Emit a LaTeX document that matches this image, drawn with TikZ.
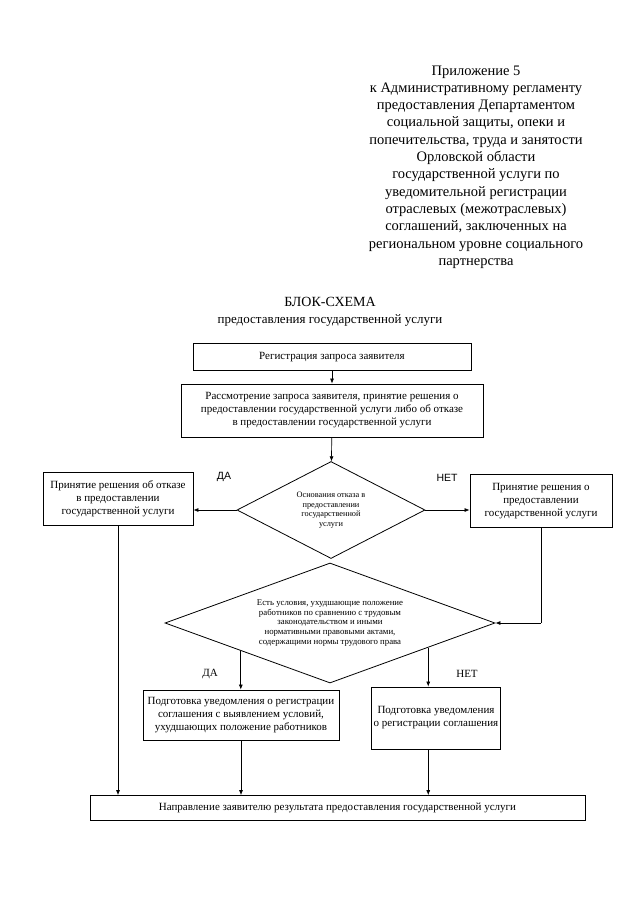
\documentclass[tikz,border=0pt]{standalone}
\usepackage{fontspec}
\setmainfont{Liberation Serif}
\newfontfamily\arialf{Liberation Sans}
\usetikzlibrary{shapes.geometric,arrows.meta,calc}
\tikzset{
  box/.style={draw, line width=0.8pt, inner sep=2pt, align=center, font=\fontsize{11}{13}\selectfont},
  dia/.style={draw, diamond, line width=0.8pt, inner sep=0pt, align=center},
  arr/.style={line width=0.7pt, -{Latex[length=5pt,width=4pt]}},
  ln/.style={line width=0.7pt},
  lab/.style={font=\fontsize{11}{13}\selectfont}
}
\begin{document}
\begin{tikzpicture}[x=1pt,y=-1pt]
\useasboundingbox (0,0) rectangle (639,905);
\fill[white] (0,0) rectangle (639,905);

\node[align=center, font=\fontsize{14.5}{17.3}\selectfont] (app) at (476,167) {Приложение 5\\к Административному регламенту\\предоставления Департаментом\\социальной защиты, опеки и\\попечительства, труда и занятости\\Орловской области\\государственной услуги по\\уведомительной регистрации\\отраслевых (межотраслевых)\\соглашений, заключенных на\\региональном уровне социального\\партнерства};

\node[font=\fontsize{14}{16}\selectfont] (t1) at (330,302) {БЛОК-СХЕМА};
\node[font=\fontsize{13}{15}\selectfont] (t2) at (330,320) {предоставления государственной услуги};

\node[box, minimum width=278, minimum height=27] (reg) at (332,357) {Регистрация запроса заявителя};
\node[box, minimum width=302, minimum height=53] (cons) at (332,410.5) {Рассмотрение запроса заявителя, принятие решения о\\предоставлении государственной услуги либо об отказе\\в предоставлении государственной услуги};

\node[dia, shape aspect=1.94, minimum width=188, minimum height=97, font=\fontsize{8.3}{9.6}\selectfont] (d1) at (331,510) {Основания отказа в\\предоставлении\\государственной\\услуги};

\node[box, minimum width=150, minimum height=53] (refuse) at (118,499) {Принятие решения об отказе\\в предоставлении\\государственной услуги};
\node[box, minimum width=142, minimum height=53] (grant) at (541,501) {Принятие решения о\\предоставлении\\государственной услуги};

\node[lab, font=\arialf\fontsize{10.5}{12}\selectfont] (da1) at (224,477) {ДА};
\node[lab, font=\arialf\fontsize{10.5}{12}\selectfont] (net1) at (447,478) {НЕТ};

\node[dia, shape aspect=2.75, minimum width=330, minimum height=120, font=\fontsize{8.8}{9.8}\selectfont] (d2) at (330,623) {Есть условия, ухудшающие положение\\работников по сравнению с трудовым\\законодательством и иными\\нормативными правовыми актами,\\содержащими нормы трудового права};

\node[box, minimum width=196, minimum height=50] (yes2) at (241,715) {Подготовка уведомления о регистрации\\соглашения с выявлением условий,\\ухудшающих положение работников};
\node[box, minimum width=120, minimum height=62] (no2) at (436,718) {Подготовка уведомления\\о регистрации соглашения};

\node[lab] (da2) at (210,674) {ДА};
\node[lab] (net2) at (467,674) {НЕТ};

\node[box, minimum width=495, minimum height=25] (fin) at (337.5,808) {Направление заявителю результата предоставления государственной услуги};

\draw[arr] (reg) -- (cons);
\draw[arr] (cons) -- (d1);
\draw[arr] (d1.west) -- (refuse.east |- d1.west);
\draw[arr] (d1.east) -- (grant.west |- d1.east);
\draw[ln] (grant.south) -- (grant.south |- d2.east);
\draw[arr] (grant.south |- d2.east) -- (d2.east);
\draw[arr] (refuse.south) -- (refuse.south |- fin.north);

\coordinate (p1) at ($(d2.west)!0.4606!(d2.south)$);
\coordinate (p2) at ($(d2.east)!0.406!(d2.south)$);
\draw[arr] (p1) -- (p1 |- yes2.north);
\draw[arr] (p2) -- (p2 |- no2.north);
\draw[arr] (yes2.south) -- (yes2.south |- fin.north);
\draw[arr] (p2 |- no2.south) -- (p2 |- fin.north);
\end{tikzpicture}
\end{document}
